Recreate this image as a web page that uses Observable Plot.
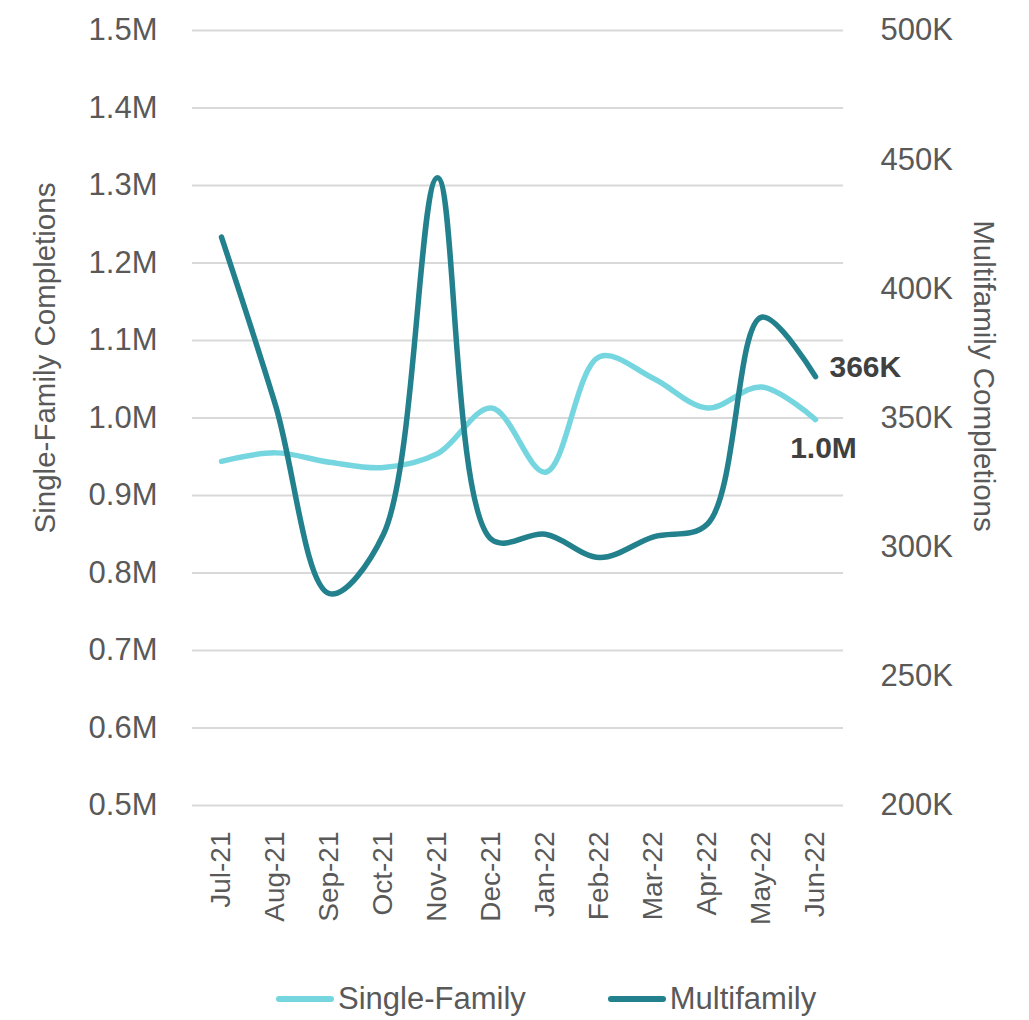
<!DOCTYPE html>
<html>
<head>
<meta charset="utf-8">
<script src="https://cdn.jsdelivr.net/npm/d3@7"></script>
<script src="https://cdn.jsdelivr.net/npm/@observablehq/plot@0.6"></script>
<style>
  html, body { margin: 0; padding: 0; background: #fff; }
  body { width: 1029px; font-family: "Liberation Sans Narrow", "Arial Narrow", "Liberation Sans", sans-serif; }
  #legend { height: 42px; display: flex; align-items: center; justify-content: flex-start; gap: 82px; color: #595959; font-size: 31px; padding-left: 276px; }
  .item { display: flex; align-items: center; }
  .sw { width: 58px; height: 6px; border-radius: 3px; margin-right: 4px; }
</style>
</head>
<body>
<div id="chart"></div>
<div id="legend"></div>
<script>
const months = ["Jul-21","Aug-21","Sep-21","Oct-21","Nov-21","Dec-21","Jan-22","Feb-22","Mar-22","Apr-22","May-22","Jun-22"];
// Single-family completions, millions (left axis)
const singleFamily = [0.944, 0.955, 0.943, 0.936, 0.954, 1.013, 0.930, 1.079, 1.051, 1.013, 1.040, 0.998];
// Multifamily completions, thousands (right axis)
const multifamily = [420, 355, 282, 305, 443, 303, 305, 296, 304, 309, 389, 366];
const leftTicks = [0.5, 0.6, 0.7, 0.8, 0.9, 1.0, 1.1, 1.2, 1.3, 1.4, 1.5];
const rightTicks = [200, 250, 300, 350, 400, 450, 500];
const seriesNames = ["Single-Family", "Multifamily"];
const seriesColors = ["#76D6E0", "#22818C"];
const endLabels = ["1.0M", "366K"];

// map right-axis values (thousands, 200–500) onto left scale (0.5–1.5M)
const mfToLeft = v => 0.5 + (v - 200) / 300;

const sf = months.map((m, i) => ({month: m, value: singleFamily[i]}));
const mf = months.map((m, i) => ({month: m, value: mfToLeft(multifamily[i]), raw: multifamily[i]}));

const font = '"Liberation Sans Narrow", "Arial Narrow", "Liberation Sans", sans-serif';

const chart = Plot.plot({
  width: 1029,
  height: 978,
  marginTop: 30,
  marginBottom: 173,
  marginLeft: 192,
  marginRight: 186,
  style: {fontFamily: font, color: "#595959", background: "#fff", overflow: "visible"},
  x: {type: "point", domain: months, padding: 0.5, label: null},
  y: {domain: [0.5, 1.5], label: null},
  marks: [
    Plot.gridY(leftTicks, {stroke: "#d9d9d9", strokeOpacity: 1, strokeWidth: 2}),
    Plot.axisY(leftTicks, {anchor: "left", tickSize: 0, tickPadding: 35, fontSize: 31, fill: "#595959",
      tickFormat: d => d.toFixed(1) + "M", label: null}),
    Plot.axisY(rightTicks.map(mfToLeft), {anchor: "right", tickSize: 0, tickPadding: 37, fontSize: 31, fill: "#595959",
      tickFormat: d => Math.round((d - 0.5) * 300 + 200) + "K", label: null}),
    Plot.axisX({tickRotate: -90, tickSize: 0, tickPadding: 26, fontSize: 28, fill: "#595959", label: null}),
    Plot.text(["Single-Family Completions"], {frameAnchor: "left", textAnchor: "middle", dx: -147, dy: -60, rotate: -90,
      text: d => d, fontSize: 29.5, fill: "#595959"}),
    Plot.text(["Multifamily Completions"], {frameAnchor: "right", textAnchor: "middle", dx: 140, dy: -42, rotate: 90,
      text: d => d, fontSize: 29.5, fill: "#595959"}),
    Plot.line(sf, {x: "month", y: "value", curve: "catmull-rom", stroke: seriesColors[0], strokeWidth: 5.5,
      strokeLinecap: "round", strokeLinejoin: "round"}),
    Plot.line(mf, {x: "month", y: "value", curve: "catmull-rom", stroke: seriesColors[1], strokeWidth: 5.5,
      strokeLinecap: "round", strokeLinejoin: "round"}),
    Plot.text([sf[sf.length - 1]], {x: "month", y: "value", text: () => endLabels[0], dx: 8, dy: 29,
      fontSize: 30, fontWeight: "bold", fill: "#404040"}),
    Plot.text([mf[mf.length - 1]], {x: "month", y: "value", text: () => endLabels[1], dx: 14, dy: -9,
      textAnchor: "start", fontSize: 30, fontWeight: "bold", fill: "#404040"})
  ]
});
document.getElementById("chart").append(chart);

const legend = document.getElementById("legend");
seriesNames.forEach((n, i) => {
  const item = document.createElement("div");
  item.className = "item";
  const sw = document.createElement("div");
  sw.className = "sw";
  sw.style.background = seriesColors[i];
  const t = document.createElement("span");
  t.textContent = n;
  item.append(sw, t);
  legend.append(item);
});
</script>
</body>
</html>
